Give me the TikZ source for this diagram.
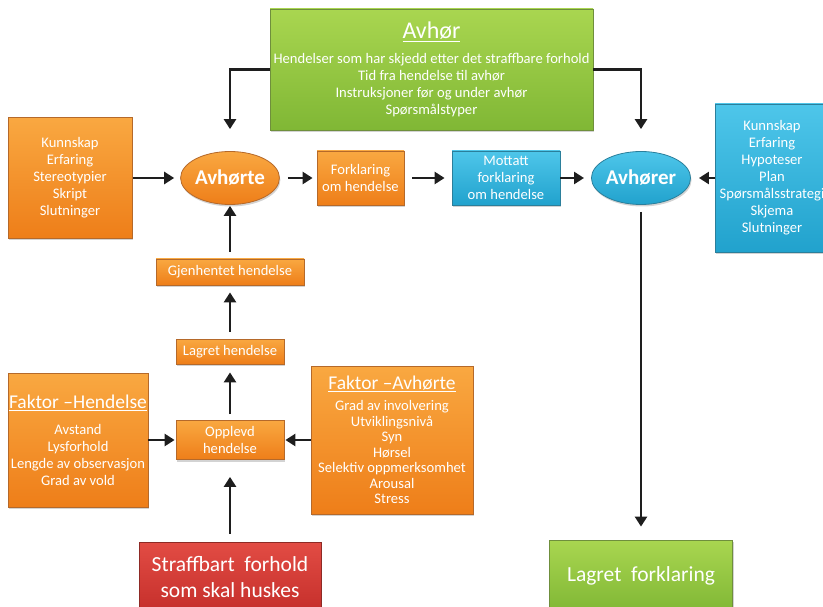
\documentclass[tikz,border=0pt]{standalone}
\usepackage{fontspec}
\setmainfont{Carlito}
\usetikzlibrary{shapes.geometric,arrows.meta,shadows}
\definecolor{orangeT}{HTML}{F9A841}
\definecolor{orangeB}{HTML}{EE7E19}
\definecolor{orangeE}{HTML}{B5692A}
\definecolor{greenT}{HTML}{A9D650}
\definecolor{greenB}{HTML}{80B735}
\definecolor{greenE}{HTML}{6F8F3C}
\definecolor{blueT}{HTML}{4EC6EA}
\definecolor{blueB}{HTML}{21A2CD}
\definecolor{blueE}{HTML}{2B7F9B}
\definecolor{redT}{HTML}{E24C44}
\definecolor{redB}{HTML}{C52F2B}
\definecolor{redE}{HTML}{8E2A25}
\definecolor{pilfarge}{HTML}{1E1E1E}
\tikzset{
  boks/.style={rectangle, text=white, align=center, inner sep=0pt, line width=0.8pt,
    drop shadow={shadow xshift=1pt, shadow yshift=-2pt, opacity=0.35},
    font=\fontsize{14.6}{17}\selectfont},
  oransje/.style={boks, draw=orangeE, top color=orangeT, bottom color=orangeB},
  groenn/.style={boks, draw=greenE, top color=greenT, bottom color=greenB},
  blaa/.style={boks, draw=blueE, top color=blueT, bottom color=blueB},
  roed/.style={boks, draw=redE, top color=redT, bottom color=redB},
  ellipsen/.style={ellipse, minimum width=94pt, minimum height=53pt,
    font=\fontsize{21}{21}\selectfont\bfseries},
  pil/.style={draw=pilfarge, line width=2.6pt, -{Triangle[length=10pt,width=12pt]},
    shorten >=6pt, shorten <=6pt}
}
\begin{document}
\begin{tikzpicture}[x=1pt,y=-1pt]
    \useasboundingbox (0,0) rectangle (823,607);
    \node (avhor) [groenn, minimum width=323pt, minimum height=121pt] at (431.5,69.5)
        {{\fontsize{24}{24}\selectfont\underline{Avhør}}\\[8pt]
         Hendelser som har skjedd etter det straffbare forhold\\
         Tid fra hendelse til avhør\\
         Instruksjoner før og under avhør\\
         Spørsmålstyper};
    \node (kildeA) [oransje, minimum width=124pt, minimum height=121pt] at (70,178)
        {Kunnskap\\Erfaring\\Stereotypier\\Skript\\Slutninger};
    \node (avhorte) [oransje, ellipsen] at (230,178) {Avhørte};
    \node (forkl) [oransje, minimum width=87pt, minimum height=54pt] at (360.5,178)
        {Forklaring\\om hendelse};
    \node (mottatt) [blaa, minimum width=108pt, minimum height=54pt] at (506,178)
        {Mottatt\\forklaring\\om hendelse};
    \node (avhorer) [blaa, ellipsen, minimum width=88pt] at (641,178) {Avhører};
    \node (kildeB) [blaa, minimum width=114pt, minimum height=148pt] at (772,178)
        {Kunnskap\\Erfaring\\Hypoteser\\Plan\\Spørsmålsstrategi\\Skjema\\Slutninger};
    \node (gjenh) [oransje, minimum width=148pt, minimum height=26pt] at (230,272)
        {Gjenhentet hendelse};
    \node (lagret) [oransje, minimum width=108pt, minimum height=25pt] at (230,351.5)
        {Lagret hendelse};
    \node (opplevd) [oransje, minimum width=108pt, minimum height=39pt] at (230,440)
        {Opplevd\\hendelse};
    \node (faktorH) [oransje, minimum width=140pt, minimum height=134pt] at (78,440)
        {{\fontsize{19.5}{19.5}\selectfont\underline{Faktor –Hendelse}}\\[9pt]
         Avstand\\Lysforhold\\Lengde av observasjon\\Grad av vold};
    \node (faktorA) [oransje, minimum width=162pt, minimum height=148pt,
        font=\fontsize{14.6}{15.5}\selectfont] at (392,440)
        {{\fontsize{19.5}{19.5}\selectfont\underline{Faktor –Avhørte}}\\[6pt]
         Grad av involvering\\Utviklingsnivå\\Syn\\Hørsel\\Selektiv oppmerksomhet\\Arousal\\Stress};
    \node (straff) [roed, minimum width=182pt, minimum height=70pt,
        font=\fontsize{21.5}{26}\selectfont] at (230,577)
        {Straffbart~~forhold\\som skal huskes};
    \node (lagretF) [groenn, minimum width=183pt, minimum height=72pt,
        font=\fontsize{21.5}{24}\selectfont] at (641,576)
        {Lagret~~forklaring};

    \draw[pil, shorten >=22pt, shorten <=0pt] (avhor.west) -| (avhorte.north);
    \draw[pil, shorten >=22pt, shorten <=0pt] (avhor.east) -| (avhorer.north);
    \draw[pil, shorten <=1pt] (kildeA) -- (avhorte);
    \draw[pil, shorten <=8pt, shorten >=4pt] (avhorte) -- (forkl);
    \draw[pil, shorten <=8pt, shorten >=7pt] (forkl) -- (mottatt);
    \draw[pil, shorten <=0pt, shorten >=7pt] (mottatt) -- (avhorer);
    \draw[pil, shorten <=0pt, shorten >=8pt] (kildeB.west) -- (avhorer);
    \draw[pil, shorten <=7pt, shorten >=13pt] (avhorer) -- (lagretF);
    \draw[pil, shorten <=7pt, shorten >=1pt] (gjenh) -- (avhorte);
    \draw[pil, shorten <=7pt, shorten >=7pt] (lagret) -- (gjenh);
    \draw[pil, shorten <=6pt, shorten >=8pt] (opplevd) -- (lagret);
    \draw[pil, shorten <=0pt, shorten >=1pt] (faktorH) -- (opplevd);
    \draw[pil, shorten <=0pt, shorten >=1pt] (faktorA) -- (opplevd);
    \draw[pil, shorten <=8pt, shorten >=17pt] (straff) -- (opplevd);
\end{tikzpicture}
\end{document}
